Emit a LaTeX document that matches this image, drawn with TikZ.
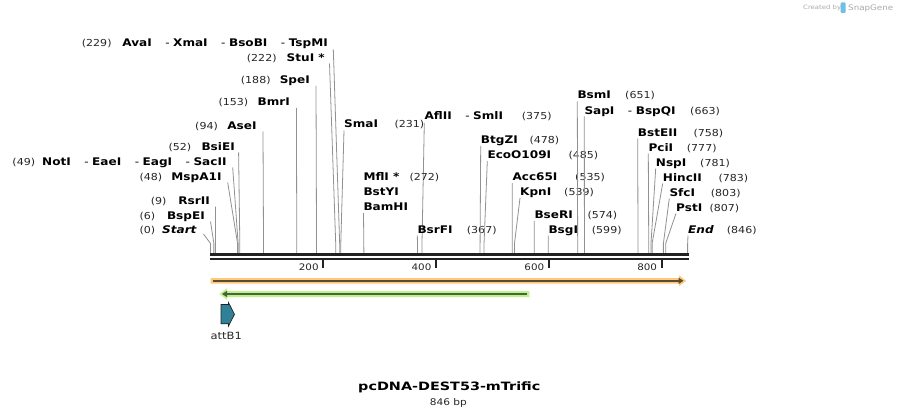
\documentclass[tikz,border=0pt]{standalone}
\usepackage{fontspec}
\setmainfont{DejaVu Sans}[FakeStretch=1.15]
\newfontfamily\titlefont{DejaVu Sans}[FakeStretch=1.25]
\usetikzlibrary{arrows.meta}
\definecolor{cutgray}{HTML}{919191}
\definecolor{bardark}{HTML}{222222}
\definecolor{orangeband}{HTML}{FDC97A}
\definecolor{orangeline}{HTML}{5C4A33}
\definecolor{greenband}{HTML}{BDF28C}
\definecolor{greenline}{HTML}{4B6338}
\definecolor{featteal}{HTML}{31809A}
\definecolor{wmgray}{HTML}{AAAAAA}
\definecolor{wmblue}{HTML}{6EC1E4}
\tikzset{
  enz/.style={inner sep=0pt, font=\fontsize{10.5}{12}\selectfont\bfseries, text=black},
  num/.style={inner sep=0pt, font=\fontsize{9.6}{12}\selectfont, text=black!85},
  cut/.style={draw=cutgray, line width=0.8pt},
  tick/.style={draw=bardark, line width=2pt},
}
% left-side label: numx, num, name right x, name, baseline, line top x, line top y, bp, id
\newcommand\lftlab[9]{%
  \node[num, anchor=base west] (n#9) at (#1,#5) {#2};
  \node[enz, anchor=base east] (l#9) at (#3,#5) {#4};
  \coordinate (t#9) at (#6,#7);
  \coordinate (s#9) at ({210.5+0.564*#8},253.5);
  \draw[cut] (t#9) -- ([yshift=10pt]s#9) -- (s#9);}
% right-side label: name x, name, baseline, numx, num, line top y, bp, id
\newcommand\rgtlab[8]{%
  \node[enz, anchor=base west] (l#8) at (#1,#3) {#2};
  \node[num, anchor=base west] (n#8) at (#4,#3) {#5};
  \coordinate (t#8) at (#1,#6);
  \coordinate (s#8) at ({210.5+0.564*#7},253.5);
  \draw[cut] (t#8) -- ([yshift=10pt]s#8) -- (s#8);}
\newcommand\dsep{\hspace{13.5pt}{\mdseries -}\hspace{3.5pt}}
\begin{document}
\begin{tikzpicture}[x=1pt,y=-1pt]
\fill[white] (0,0) rectangle (899,417);
\useasboundingbox (0,0) rectangle (899,417);

% watermark
\node[inner sep=0pt, anchor=base west, font=\fontsize{6}{7}\selectfont, text=wmgray] (wm1) at (803,10) {Created by};
\fill[wmblue, rounded corners=1pt] (840.5,2.5) rectangle (845.5,13);
\node[inner sep=0pt, anchor=base west, font=\fontsize{7.6}{9}\selectfont, text=wmgray] (wm2) at (848,10.5) {SnapGene};

% left-side labels
\lftlab{81.7}{(229)}{328}{AvaI\dsep XmaI\dsep BsoBI\dsep TspMI}{46.5}{333.3}{49.3}{229}{ava}
\lftlab{246.7}{(222)}{325}{StuI *}{62}{329.5}{63.5}{222}{stu}
\lftlab{240.7}{(188)}{310}{SpeI}{84}{316}{86}{188}{spe}
\lftlab{218.3}{(153)}{290}{BmrI}{106}{296.4}{108}{153}{bmr}
\lftlab{195}{(94)}{256.7}{AseI}{129}{263}{131.5}{94}{ase}
\lftlab{168.3}{(52)}{235}{BsiEI}{150}{238.6}{152.5}{52}{bsie}
\lftlab{12.3}{(49)}{226.7}{NotI\dsep EaeI\dsep EagI\dsep SacII}{165}{232.7}{167.5}{49}{not}
\lftlab{139.3}{(48)}{221.7}{MspA1I}{180}{227.7}{182.5}{48}{msp}
\lftlab{150.7}{(9)}{210}{RsrII}{204}{215.5}{206.5}{9}{rsr}
\lftlab{139.3}{(6)}{205}{BspEI}{219}{210.5}{221.5}{6}{bspe}
\lftlab{139.3}{(0)}{196.7}{\itshape Start}{233}{203.5}{234}{0}{start}

% right-side labels
\rgtlab{344}{SmaI}{128}{394.3}{(231)}{130.5}{231}{sma}
\rgtlab{424.3}{AflII\dsep SmlI}{120}{521.7}{(375)}{123}{375}{afl}
\node[enz, anchor=base west] (lmfl) at (363.3,180.5) {MflI *};
\node[num, anchor=base west] (nmfl) at (409.3,180.5) {(272)};
\node[enz, anchor=base west] (lbsty) at (363.3,195) {BstYI};
\node[enz, anchor=base west] (lbam) at (363.3,210) {BamHI};
\coordinate (tbam) at (363.5,213);
\coordinate (sbam) at ({210.5+0.564*272},253.5);
\draw[cut] (tbam) -- (sbam);
\rgtlab{417.3}{BsrFI}{233}{466.7}{(367)}{235.5}{367}{bsrf}
\rgtlab{480.7}{BtgZI}{143}{529.3}{(478)}{146}{478}{btgz}
\rgtlab{487.3}{EcoO109I}{158}{568.3}{(485)}{161}{485}{eco}
\rgtlab{512.3}{Acc65I}{180.5}{575}{(535)}{183}{535}{acc}
\rgtlab{520}{KpnI}{195}{564}{(539)}{198}{539}{kpn}
\rgtlab{534.3}{BseRI}{218}{587.3}{(574)}{221}{574}{bser}
\rgtlab{548.3}{BsgI}{233}{591.7}{(599)}{235.5}{599}{bsg}
\rgtlab{577.3}{BsmI}{99}{625}{(651)}{101.5}{651}{bsm}
\rgtlab{584.3}{SapI\dsep BspQI}{114}{690}{(663)}{116.5}{663}{sap}
\rgtlab{637.7}{BstEII}{136}{693.3}{(758)}{138.5}{758}{bste}
\rgtlab{648.3}{PciI}{151}{686.7}{(777)}{153.5}{777}{pci}
\rgtlab{655.7}{NspI}{166}{700}{(781)}{168.5}{781}{nsp}
\rgtlab{662.7}{HincII}{181}{718.3}{(783)}{183.5}{783}{hinc}
\rgtlab{669.3}{SfcI}{196}{710.7}{(803)}{198.5}{803}{sfc}
\rgtlab{676}{PstI}{211}{709.3}{(807)}{213.5}{807}{pst}
\rgtlab{688}{\itshape End}{233}{726.7}{(846)}{235.5}{846}{end}

% sequence bar (double strand)
\draw[bardark, line width=2.7pt] (210,254.7) -- (689,254.7);
\draw[bardark, line width=2pt] (210,259.3) -- (689,259.3);

% ruler ticks
\foreach \p in {200,400,600,800}{
  \draw[tick] ({210.5+0.564*\p},260.3) -- ++(0,7.2);
  \node[inner sep=0pt, anchor=base east, font=\fontsize{9}{11}\selectfont, text=black!85] at ({210.5+0.564*\p-4.5},270.5) {\p};
}

% orange feature (forward)
\fill[orangeband] (210.7,278) -- (679,278) -- (679,275.3) -- (686,280.8) -- (679,286.3) -- (679,283.6) -- (210.7,283.6) -- cycle;
\draw[orangeline, line width=2pt, -{Triangle[length=5pt,width=6pt]}] (213,280.8) -- (683.5,280.8);

% green feature (reverse)
\fill[greenband] (529.3,291) -- (227,291) -- (227,288.3) -- (219.5,294) -- (227,299.7) -- (227,297) -- (529.3,297) -- cycle;
\draw[greenline, line width=2pt, -{Triangle[length=5pt,width=6pt]}] (527,294) -- (222,294);

% attB1 feature
\filldraw[fill=featteal, draw=bardark, line width=0.7pt] (221,304.5) -- (228.5,304.5) -- (228.5,302.6) -- (234.5,314.3) -- (228.5,326) -- (228.5,323.8) -- (221,323.8) -- cycle;
\node[inner sep=0pt, anchor=base, font=\fontsize{10}{12}\selectfont, text=black!85] (attb) at (226.2,339) {attB1};

% title
\node[inner sep=0pt, anchor=base, font=\titlefont\fontsize{11.5}{14}\selectfont\bfseries] (title) at (449.3,390) {pcDNA-DEST53-mTrific};
\node[inner sep=0pt, anchor=base, font=\fontsize{9.2}{12}\selectfont, text=black!85] (size) at (448.3,405) {846 bp};
\end{tikzpicture}
\end{document}
